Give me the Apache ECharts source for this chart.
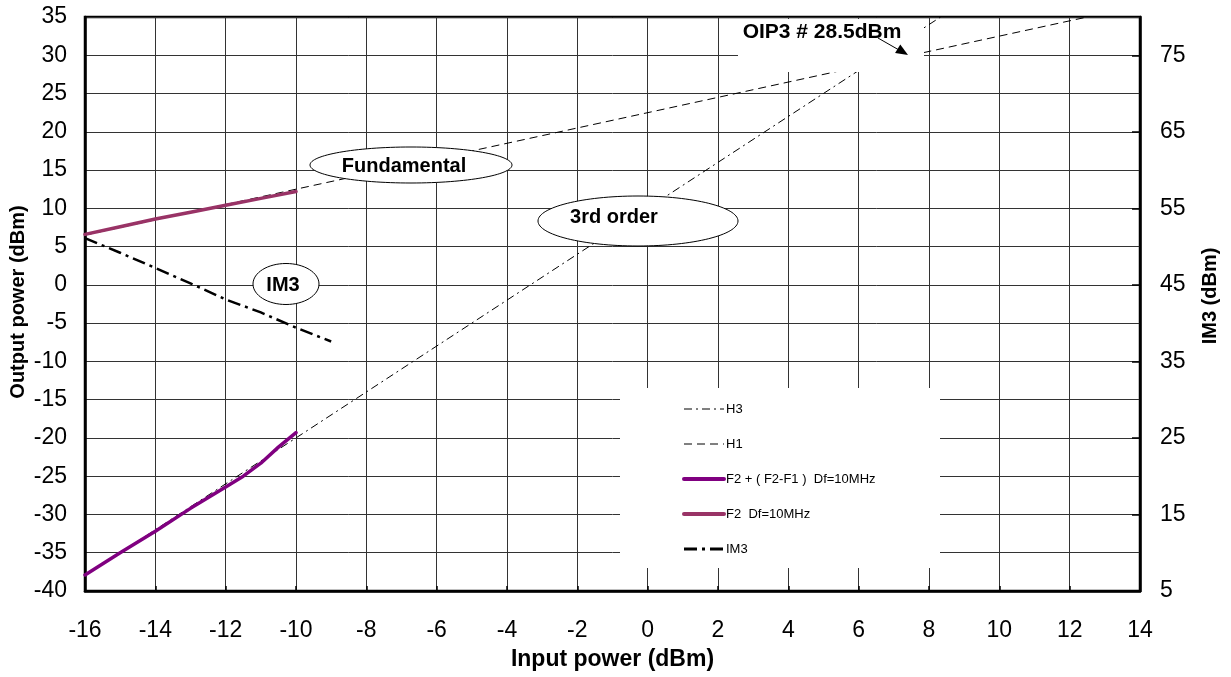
<!DOCTYPE html>
<html>
<head>
<meta charset="utf-8">
<script src="https://cdn.jsdelivr.net/npm/echarts@6/dist/echarts.min.js"></script>
<style>
html,body{margin:0;padding:0;background:#fff;}
#c{width:1231px;height:677px;}
</style>
</head>
<body>
<div id="c"></div>
<script>
// ---- data ----
const xH3 = [-16, 8.33];
const yH3 = [-38, 35];
const xH1 = [-16, 12.5];
const yH1 = [6.5, 35];
const xProd = [-16, -15, -14, -13, -12, -11.5, -11, -10.5, -10];
const yProd = [-37.9, -35.0, -32.2, -29.2, -26.4, -25.0, -23.3, -21.2, -19.3];
const xF2 = [-16, -15, -14, -13, -12, -11, -10];
const yF2 = [6.6, 7.6, 8.6, 9.5, 10.4, 11.3, 12.2];
const xIM3 = [-16, -15, -14, -13, -12, -11, -10, -9];
const yIM3 = [51.1, 49.2, 47.2, 45.2, 43.1, 41.4, 39.4, 37.6]; // right axis (IM3 dBm)
const names = ['H3', 'H1', 'F2 + ( F2-F1 )  Df=10MHz', 'F2  Df=10MHz', 'IM3'];
const xRange = [-16, 14, 2];
const yLeftRange = [-40, 35, 5];
const yRightRange = [5, 80, 10];

const FONT = 'Liberation Sans, Arial, sans-serif';
const zip = (xs, ys) => xs.map((x, i) => [x, ys[i]]);
const legendWidths = [1, 1, 4, 4, 3];

const chart = echarts.init(document.getElementById('c'));
chart.setOption({
  animation: false,
  backgroundColor: '#fff',
  grid: {left: 85, right: 91, top: 17, bottom: 86, outerBoundsMode: 'none', containLabel: false,
         show: true, borderColor: '#000', borderWidth: 2.5, backgroundColor: 'transparent'},
  legend: {
    data: names.map((n, i) => ({name: n, lineStyle: {width: legendWidths[i]}})),
    orient: 'vertical',
    left: 620, top: 389,
    padding: [13, 10, 13, 62],
    itemWidth: 40, itemHeight: 14, itemGap: 21,
    itemStyle: {opacity: 0},
    textStyle: {fontFamily: FONT, fontSize: 13, lineHeight: 14, color: '#000', padding: [0, 0, 0, -3]},
    z: 6
  },
  xAxis: {
    type: 'value', min: xRange[0], max: xRange[1], interval: xRange[2],
    name: 'Input power (dBm)', nameLocation: 'middle', nameGap: 57,
    nameTextStyle: {fontFamily: FONT, fontSize: 23, fontWeight: 'bold', color: '#000'},
    axisLine: {show: true, onZero: false, lineStyle: {color: '#000', width: 2.5}},
    axisTick: {show: true, inside: true, length: 5, lineStyle: {color: '#000', width: 1.5}},
    axisLabel: {fontFamily: FONT, fontSize: 23, color: '#000', margin: 28},
    splitLine: {show: true, lineStyle: {color: '#333', width: 1}}
  },
  yAxis: [{
    type: 'value', min: yLeftRange[0], max: yLeftRange[1], interval: yLeftRange[2],
    axisLine: {show: true, onZero: false, lineStyle: {color: '#000', width: 2.5}},
    axisTick: {show: false},
    axisLabel: {fontFamily: FONT, fontSize: 23, color: '#000', margin: 18},
    splitLine: {show: true, lineStyle: {color: '#333', width: 1}}
  }, {
    type: 'value', position: 'right', min: yRightRange[0], max: yRightRange[1], interval: yRightRange[2],
    axisLine: {show: true, onZero: false, lineStyle: {color: '#000', width: 2.5}},
    axisTick: {show: true, inside: true, length: 8, lineStyle: {color: '#000', width: 1.5}},
    axisLabel: {fontFamily: FONT, fontSize: 23, color: '#000', margin: 20, showMaxLabel: false},
    splitLine: {show: false}
  }],
  series: [
    {name: names[0], type: 'line', data: zip(xH3, yH3), symbol: 'none', z: 2,
     itemStyle: {color: '#000'}, lineStyle: {color: '#000', width: 1, type: [8, 4, 2, 4]}},
    {name: names[1], type: 'line', data: zip(xH1, yH1), symbol: 'none', z: 2,
     itemStyle: {color: '#000'}, lineStyle: {color: '#000', width: 1, type: [8, 5]}},
    {name: names[2], type: 'line', data: zip(xProd, yProd), symbol: 'none', z: 3,
     itemStyle: {color: '#800080'}, lineStyle: {color: '#800080', width: 3.5, cap: 'round'}},
    {name: names[3], type: 'line', data: zip(xF2, yF2), symbol: 'none', z: 3,
     itemStyle: {color: '#993366'}, lineStyle: {color: '#993366', width: 3.5, cap: 'round'}},
    {name: names[4], type: 'line', yAxisIndex: 1, data: zip(xIM3, yIM3), symbol: 'none', z: 3,
     itemStyle: {color: '#000'}, lineStyle: {color: '#000', width: 2.5, type: [13, 5, 3, 5]}}
  ],
  graphic: [
    {type: 'rect', silent: true, z: 4, shape: {x: 620, y: 388, width: 320, height: 180}, style: {fill: '#fff'}},
    {type: 'rect', silent: true, z: 10, shape: {x: 738, y: 19, width: 186, height: 53}, style: {fill: '#fff'}},
    {type: 'text', silent: true, z: 11, x: 822, y: 32,
     style: {text: 'OIP3 # 28.5dBm', fontFamily: FONT, fontSize: 21, fontWeight: 'bold', fill: '#000', align: 'center', verticalAlign: 'middle'}},
    {type: 'line', silent: true, z: 11, shape: {x1: 878, y1: 38, x2: 899, y2: 50}, style: {stroke: '#000', lineWidth: 1}},
    {type: 'polygon', silent: true, z: 11, shape: {points: [[908, 55], [895.1, 53.1], [900.3, 44.5]]}, style: {fill: '#000'}},
    {type: 'ellipse', silent: true, z: 10, shape: {cx: 411, cy: 165, rx: 101, ry: 18}, style: {fill: '#fff', stroke: '#000', lineWidth: 1}},
    {type: 'text', silent: true, z: 11, x: 404, y: 166,
     style: {text: 'Fundamental', fontFamily: FONT, fontSize: 20, fontWeight: 'bold', fill: '#000', align: 'center', verticalAlign: 'middle'}},
    {type: 'ellipse', silent: true, z: 10, shape: {cx: 638, cy: 221, rx: 100, ry: 25}, style: {fill: '#fff', stroke: '#000', lineWidth: 1}},
    {type: 'text', silent: true, z: 11, x: 614, y: 217,
     style: {text: '3rd order', fontFamily: FONT, fontSize: 20, fontWeight: 'bold', fill: '#000', align: 'center', verticalAlign: 'middle'}},
    {type: 'ellipse', silent: true, z: 10, shape: {cx: 286, cy: 284, rx: 33, ry: 20.5}, style: {fill: '#fff', stroke: '#000', lineWidth: 1}},
    {type: 'text', silent: true, z: 11, x: 283, y: 285,
     style: {text: 'IM3', fontFamily: FONT, fontSize: 20, fontWeight: 'bold', fill: '#000', align: 'center', verticalAlign: 'middle'}},
    {type: 'text', silent: true, z: 11, x: 18, y: 302, rotation: Math.PI / 2,
     style: {text: 'Output power (dBm)', fontFamily: FONT, fontSize: 20, fontWeight: 'bold', fill: '#000', align: 'center', verticalAlign: 'middle'}},
    {type: 'text', silent: true, z: 11, x: 1210, y: 296, rotation: Math.PI / 2,
     style: {text: 'IM3 (dBm)', fontFamily: FONT, fontSize: 20, fontWeight: 'bold', fill: '#000', align: 'center', verticalAlign: 'middle'}}
  ]
});
</script>
</body>
</html>
